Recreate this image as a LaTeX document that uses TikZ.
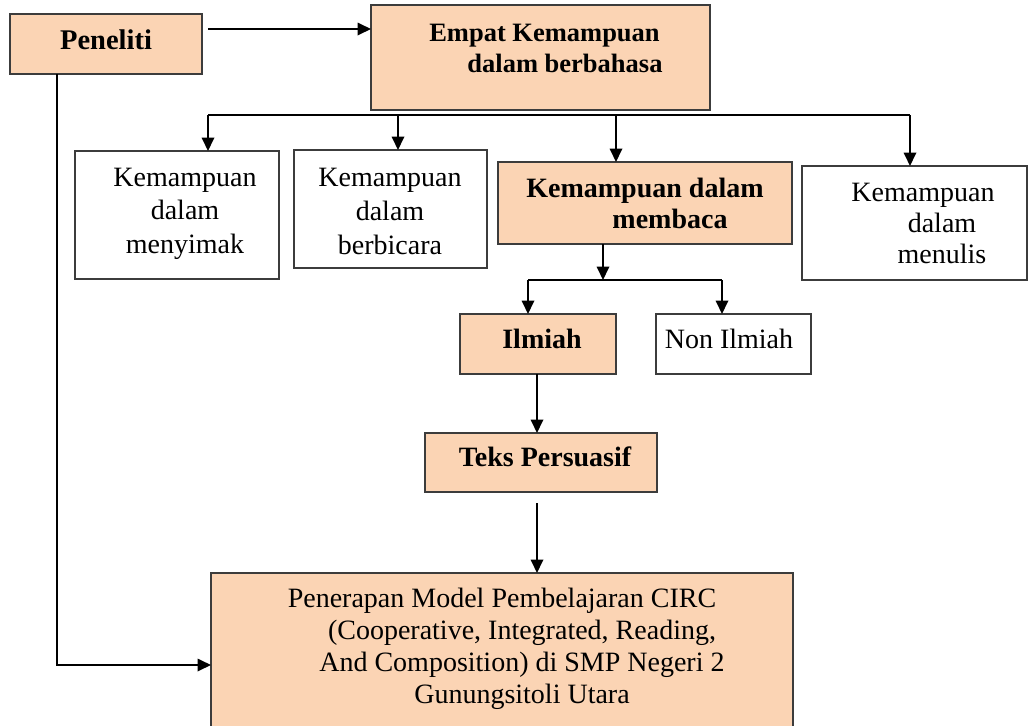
\documentclass[tikz,border=0pt]{standalone}
\usepackage{fontspec}
\setmainfont{Liberation Serif}
\usetikzlibrary{arrows.meta,calc}
\definecolor{peach}{HTML}{FBD4B4}
\definecolor{edgegray}{HTML}{3C3C3C}
\begin{document}
\begin{tikzpicture}[x=1pt,y=-1pt,
  box/.style={draw=edgegray, line width=1.4pt, inner sep=0pt, outer sep=0pt},
  hot/.style={box, fill=peach},
  plain/.style={box, fill=white},
  lbl/.style={inner sep=0pt, anchor=base},
  arr/.style={line width=1.8pt, -{Triangle[length=13.5pt,width=12.5pt]}},
  ln/.style={line width=1.8pt}]
\useasboundingbox (0,0) rectangle (1029,726);
\fill[white] (0,0) rectangle (1029,726);

% boxes
\node[hot,   minimum width=192pt, minimum height=60pt]  (peneliti)   at (106,44) {};
\node[hot,   minimum width=339pt, minimum height=105pt] (empat)      at (540.5,57.5) {};
\node[plain, minimum width=204pt, minimum height=128pt] (menyimak)   at (177,215) {};
\node[plain, minimum width=193pt, minimum height=118pt] (berbicara)  at (390.5,209) {};
\node[hot,   minimum width=294pt, minimum height=82pt]  (membaca)    at (645,203) {};
\node[plain, minimum width=225pt, minimum height=114pt] (menulis)    at (914.5,223) {};
\node[hot,   minimum width=156pt, minimum height=60pt]  (ilmiah)     at (538,344) {};
\node[plain, minimum width=155pt, minimum height=60pt]  (nonilmiah)  at (733.5,344) {};
\node[hot,   minimum width=232pt, minimum height=59pt]  (teks)       at (541,462.5) {};
\node[hot,   minimum width=582pt, minimum height=157pt] (penerapan)  at (502,651.5) {};

% texts
\node[lbl, font=\fontsize{28.5}{31}\selectfont\bfseries] (t-peneliti) at (106,49) {Peneliti};
\node[lbl, font=\fontsize{26.5}{31}\selectfont\bfseries] (t-empat) at (565,41.5)
  {\begin{tabular}[t]{@{}c@{}}Empat Kemampuan\hspace*{41pt}\\dalam berbahasa\end{tabular}};
\node[lbl, font=\fontsize{28}{33.5}\selectfont] (t-menyimak) at (185,186)
  {\begin{tabular}[t]{@{}c@{}}Kemampuan\\dalam\\menyimak\end{tabular}};
\node[lbl, font=\fontsize{28}{34}\selectfont] (t-berbicara) at (390,186)
  {\begin{tabular}[t]{@{}c@{}}Kemampuan\\dalam\\berbicara\end{tabular}};
\node[lbl, font=\fontsize{28}{31}\selectfont\bfseries] (t-membaca) at (670,197)
  {\begin{tabular}[t]{@{}c@{}}Kemampuan dalam\hspace*{50pt}\\membaca\end{tabular}};
\node[lbl, font=\fontsize{28}{31}\selectfont] (t-menulis) at (942,201)
  {\begin{tabular}[t]{@{}c@{}}Kemampuan\hspace*{38pt}\\dalam\\menulis\end{tabular}};
\node[lbl, font=\fontsize{28}{31}\selectfont\bfseries] (t-ilmiah) at (542,348) {Ilmiah};
\node[lbl, font=\fontsize{28}{31}\selectfont] (t-nonilmiah) at (729,348) {Non Ilmiah};
\node[lbl, font=\fontsize{28}{31}\selectfont\bfseries] (t-teks) at (545,466) {Teks Persuasif};
\node[lbl, font=\fontsize{28}{32}\selectfont] (t-penerapan) at (522,607)
  {\begin{tabular}[t]{@{}c@{}}Penerapan Model Pembelajaran CIRC\hspace*{40pt}\\(Cooperative, Integrated, Reading,\\And Composition) di SMP Negeri 2\\Gunungsitoli Utara\end{tabular}};

% connectors
\coordinate (q) at ($(peneliti.east)+(6,-15)$);
\draw[arr] (q) -- (q -| empat.west);

\coordinate (b1) at (208,115);
\coordinate (b2) at (398,115);
\coordinate (b3) at (616,115);
\coordinate (b4) at (910,115);
\draw[ln] (b1) -- (b4);
\draw[arr] (b1) -- (b1 |- menyimak.north);
\draw[arr] (b2) -- (b2 |- berbicara.north);
\draw[arr] (b3) -- (b3 |- membaca.north);
\draw[arr] (b4) -- (b4 |- menulis.north);

\coordinate (c0) at (603,280);
\coordinate (c1) at (528,280);
\coordinate (c2) at (722,280);
\draw[arr] (c0 |- membaca.south) -- (c0);
\draw[ln] (c1) -- (c2);
\draw[arr] (c1) -- (c1 |- ilmiah.north);
\draw[arr] (c2) -- (c2 |- nonilmiah.north);

\coordinate (d0) at (537,0);
\draw[arr] (d0 |- ilmiah.south) -- (d0 |- teks.north);
\draw[arr] ($(teks.south -| d0)+(0,11)$) -- (d0 |- penerapan.north);

\coordinate (l0) at (57,665);
\draw[arr] (peneliti.south -| l0) -- (l0) -- (l0 -| penerapan.west);
\end{tikzpicture}
\end{document}
